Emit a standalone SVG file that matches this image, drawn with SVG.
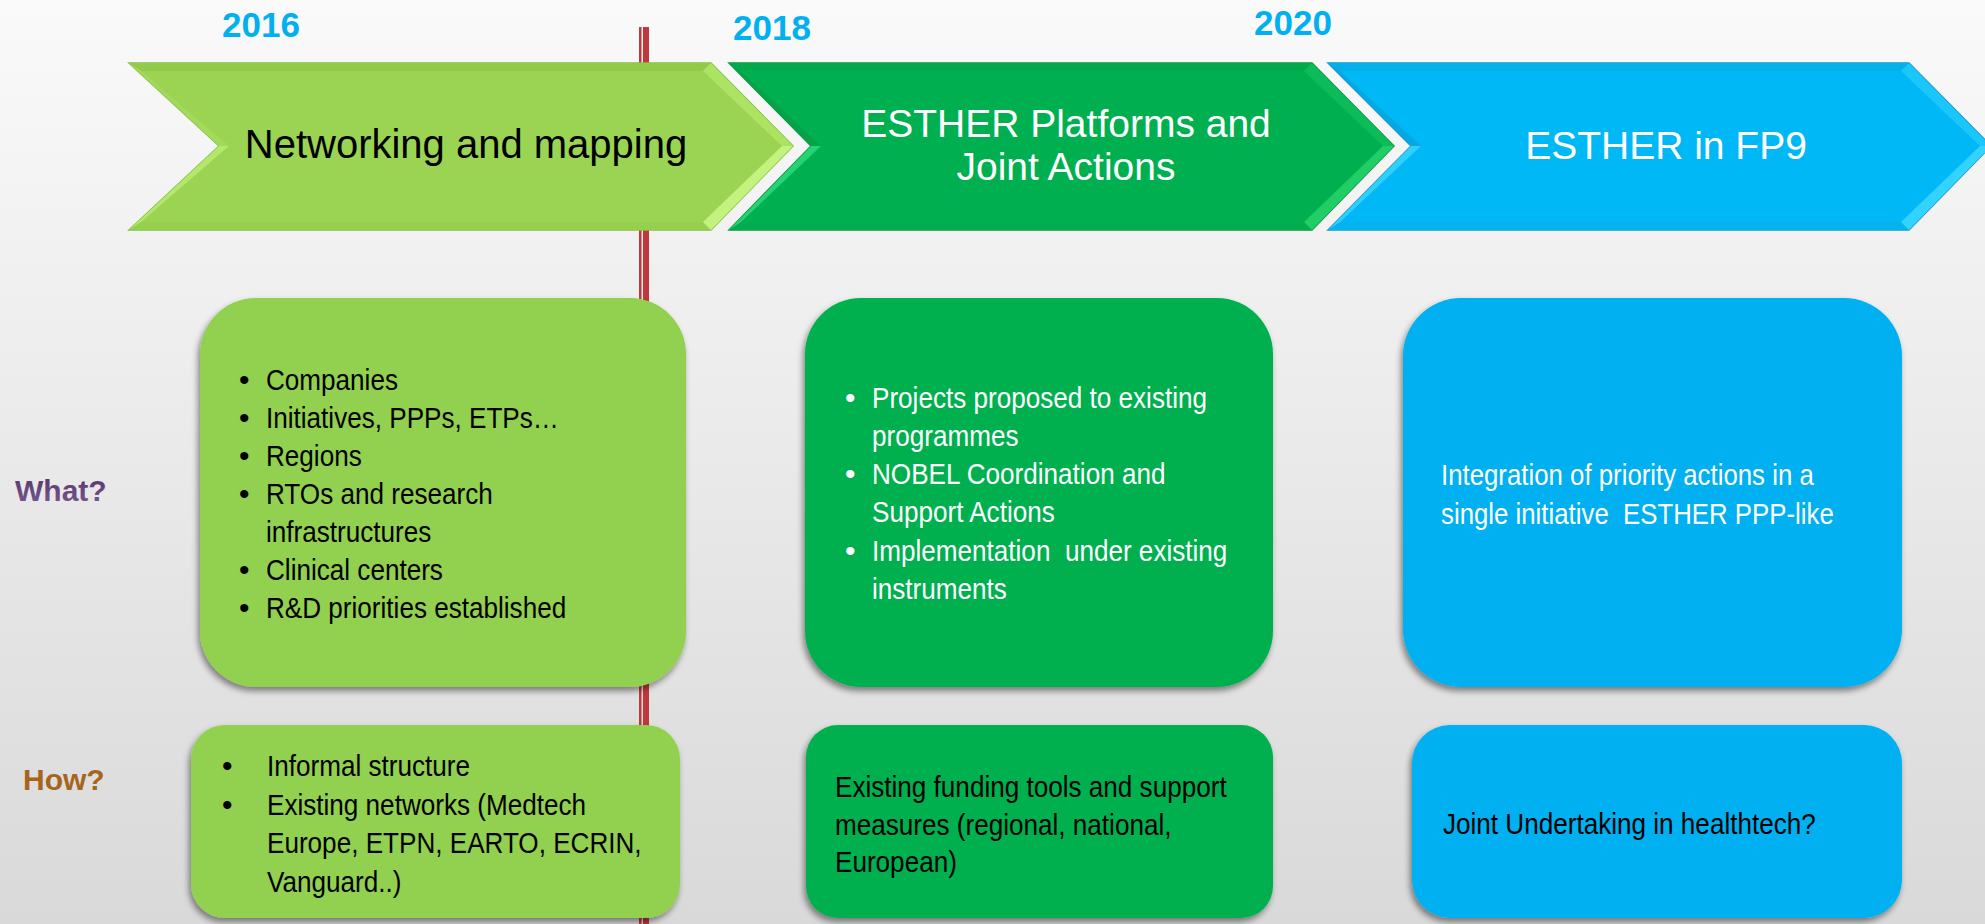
<svg xmlns="http://www.w3.org/2000/svg" width="1985" height="924" viewBox="0 0 1985 924">
  <style>
    .body { font-family: "Liberation Sans", Arial, sans-serif; font-size: 30px; }
    .title { font-family: "Liberation Sans", Arial, sans-serif; font-size: 39px; text-anchor: middle; }
    .year { font-family: "Liberation Sans", Arial, sans-serif; font-size: 35px; font-weight: bold; fill: #00B0F0; }
    .side { font-family: "Liberation Sans", Arial, sans-serif; font-size: 30px; font-weight: bold; }
    .w { fill: #FFFFFF; }
    .k { fill: #000000; }
    .lg { fill: #92D050; }
    .dg { fill: #00B050; }
    .bl { fill: #00B0F0; }
  </style>
  <defs>
    <linearGradient id="bg" x1="0" y1="0" x2="0" y2="1">
      <stop offset="0" stop-color="#FAFAFA"/>
      <stop offset="1" stop-color="#D9D9D9"/>
    </linearGradient>
    <filter id="shadow" x="-10%" y="-10%" width="120%" height="125%">
      <feDropShadow dx="-2" dy="4" stdDeviation="3" flood-color="#000" flood-opacity="0.45"/>
    </filter>
    <linearGradient id="whatGrad" x1="0" y1="0" x2="0" y2="1">
      <stop offset="0" stop-color="#553468"/>
      <stop offset="1" stop-color="#7A5C92"/>
    </linearGradient>
  </defs>

  <rect x="0" y="0" width="1985" height="924" fill="url(#bg)"/>

  <!-- timeline marker -->
  <g id="timeline-marker">
    <rect x="639" y="27" width="2.5" height="897" fill="#C1373A"/>
    <rect x="643" y="27" width="6" height="897" fill="#C1373A"/>
  </g>

  <g id="connectors"></g>

  <!-- years -->
  <g id="year-2016"><text class="year" x="222" y="37">2016</text></g>
  <g id="year-2018"><text class="year" x="733" y="40">2018</text></g>
  <g id="year-2020"><text class="year" x="1254" y="35">2020</text></g>

  <!-- Chevron 1 -->
  <g id="phase-networking">
    <polygon points="129,63 711,63 793,146 711,230 129,230 219,146" fill="#9AD452" stroke="#86BE45" stroke-width="1.5"/>
    <polygon points="129,63 711,63 703,71 141,71" fill="#90CB4B"/>
    <polygon points="129,230 711,230 703,222 141,222" fill="#94CF4E"/>
    <polygon points="711,63 793,146 782,146 703,71" fill="#ADE363"/>
    <polygon points="793,146 711,230 703,222 782,146" fill="#C4F27E"/>
    <polygon points="129,63 219,146 229,146 141,71" fill="#A3DA5B"/>
    <polygon points="219,146 129,230 141,222 229,146" fill="#B4E86C"/>
    <text class="title k" x="466" y="158" style="font-size:40px">Networking and mapping</text>
  </g>

  <!-- Chevron 2 -->
  <g id="phase-platforms">
    <polygon points="729,63 1312,63 1394,146 1312,230 729,230 811,146" fill="#00B050" stroke="#0B9442" stroke-width="1.5"/>
    <polygon points="729,63 1312,63 1304,71 741,71" fill="#04A94B"/>
    <polygon points="729,230 1312,230 1304,222 741,222" fill="#03AC4D"/>
    <polygon points="1312,63 1394,146 1383,146 1304,71" fill="#0DBB5A"/>
    <polygon points="1394,146 1312,230 1304,222 1383,146" fill="#22CD68"/>
    <polygon points="729,63 811,146 821,146 741,71" fill="#06A248"/>
    <polygon points="811,146 729,230 741,222 821,146" fill="#24D373"/>
    <text class="title w" x="1066" y="137">ESTHER Platforms and</text>
    <text class="title w" x="1066" y="180">Joint Actions</text>
  </g>

  <!-- Chevron 3 -->
  <g id="phase-fp9">
    <polygon points="1328,63 1909,63 1991,146 1909,230 1328,230 1411,146" fill="#00B8F5" stroke="#1C96C4" stroke-width="1.5"/>
    <polygon points="1328,63 1909,63 1901,71 1340,71" fill="#04B0EA"/>
    <polygon points="1328,230 1909,230 1901,222 1340,222" fill="#04B3EE"/>
    <polygon points="1909,63 1991,146 1980,146 1901,71" fill="#1BC6FC"/>
    <polygon points="1991,146 1909,230 1901,222 1980,146" fill="#33D3FF"/>
    <polygon points="1328,63 1411,146 1421,146 1340,71" fill="#06A8E2"/>
    <polygon points="1411,146 1328,230 1340,222 1421,146" fill="#30CFFF"/>
    <text class="title w" x="1666" y="159">ESTHER in FP9</text>
  </g>

  <!-- side labels -->
  <g id="label-what"><text class="side" x="15" y="501" fill="url(#whatGrad)">What?</text></g>
  <g id="label-how"><text class="side" x="23" y="790" fill="#A5651C">How?</text></g>

  <!-- What boxes -->
  <g id="what-networking">
    <rect class="lg" x="200" y="298" width="486" height="389" rx="56" filter="url(#shadow)"/>
    <g class="body k">
      <text x="239" y="390">•</text><text x="239" y="428">•</text><text x="239" y="466">•</text>
      <text x="239" y="504">•</text><text x="239" y="580">•</text><text x="239" y="618">•</text>
    </g>
    <g class="body k" transform="translate(266 0) scale(0.87 1)">
      <text x="0" y="390">Companies</text>
      <text x="0" y="428">Initiatives, PPPs, ETPs…</text>
      <text x="0" y="466">Regions</text>
      <text x="0" y="504">RTOs and research</text>
      <text x="0" y="542">infrastructures</text>
      <text x="0" y="580">Clinical centers</text>
      <text x="0" y="618">R&amp;D priorities established</text>
    </g>
  </g>

  <g id="what-platforms">
    <rect class="dg" x="805" y="298" width="468" height="389" rx="56" filter="url(#shadow)"/>
    <g class="body w">
      <text x="845" y="408">•</text><text x="845" y="484">•</text><text x="845" y="561">•</text>
    </g>
    <g class="body w" transform="translate(872 0) scale(0.87 1)">
      <text x="0" y="408">Projects proposed to existing</text>
      <text x="0" y="446">programmes</text>
      <text x="0" y="484">NOBEL Coordination and</text>
      <text x="0" y="522">Support Actions</text>
      <text x="0" y="561" xml:space="preserve">Implementation  under existing</text>
      <text x="0" y="599">instruments</text>
    </g>
  </g>

  <g id="what-fp9">
    <rect class="bl" x="1403" y="298" width="499" height="389" rx="58" filter="url(#shadow)"/>
    <g class="body w" transform="translate(1441 0) scale(0.86 1)">
      <text x="0" y="485" xml:space="preserve">Integration of priority actions in a</text>
      <text x="0" y="524" xml:space="preserve">single initiative  ESTHER PPP-like</text>
    </g>
  </g>

  <!-- How boxes -->
  <g id="how-networking">
    <rect class="lg" x="191" y="725" width="489" height="193" rx="34" filter="url(#shadow)"/>
    <g class="body k">
      <text x="222" y="776">•</text><text x="222" y="815">•</text>
    </g>
    <g class="body k" transform="translate(267 0) scale(0.87 1)">
      <text x="0" y="776">Informal structure</text>
      <text x="0" y="815">Existing networks (Medtech</text>
      <text x="0" y="853">Europe, ETPN, EARTO, ECRIN,</text>
      <text x="0" y="892">Vanguard..)</text>
    </g>
  </g>

  <g id="how-platforms">
    <rect class="dg" x="806" y="725" width="467" height="193" rx="32" filter="url(#shadow)"/>
    <g class="body k" transform="translate(835 0) scale(0.87 1)">
      <text x="0" y="797">Existing funding tools and support</text>
      <text x="0" y="835">measures (regional, national,</text>
      <text x="0" y="872">European)</text>
    </g>
  </g>

  <g id="how-fp9">
    <rect class="bl" x="1412" y="725" width="490" height="193" rx="38" filter="url(#shadow)"/>
    <g class="body k" transform="translate(1443 0) scale(0.87 1)">
      <text x="0" y="834">Joint Undertaking in healthtech?</text>
    </g>
  </g>
</svg>
